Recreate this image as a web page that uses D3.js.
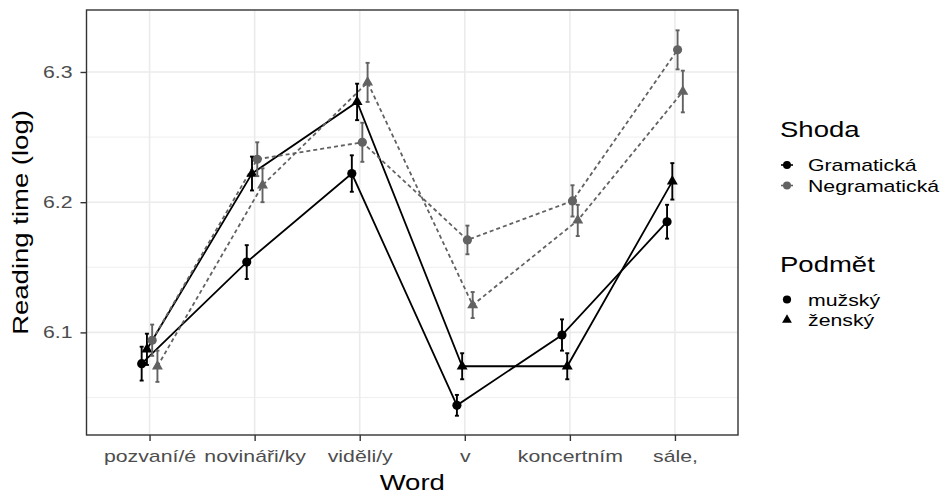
<!DOCTYPE html>
<html lang="cs">
<head>
  <meta charset="UTF-8">
  <title>Reading time by word</title>
  <script src="https://d3js.org/d3.v7.min.js"></script>
  <style type="text/css">
    body { margin: 0; background: white; }
    text { font-family: "Liberation Sans", Arial, sans-serif; }
    .axis path { display: none; }
    .axis line { stroke: #333333; stroke-width: 1.4; }
    .axis text { fill: #4d4d4d; font-size: 17px; }
  </style>
</head>
<body>
  <svg width="941" height="496"></svg>
  <script type="text/javascript">
    // Data
    const words = ["pozvaní/é", "novináři/ky", "viděli/y", "v", "koncertním", "sále,"];
    const yTicks = [6.1, 6.2, 6.3];
    const yMinor = [6.05, 6.15, 6.25];

    // Shoda = Gramatická / Negramatická, Podmět = mužský / ženský
    const gramMuz   = [6.076, 6.154, 6.222, 6.044, 6.098, 6.185];
    const gramMuzSe = [0.013, 0.013, 0.014, 0.008, 0.012, 0.013];
    const gramZen   = [6.087, 6.222, 6.277, 6.074, 6.074, 6.216];
    const gramZenSe = [0.012, 0.013, 0.014, 0.010, 0.010, 0.014];
    const negMuz    = [6.094, 6.233, 6.246, 6.171, 6.201, 6.317];
    const negMuzSe  = [0.012, 0.013, 0.015, 0.011, 0.012, 0.015];
    const negZen    = [6.074, 6.213, 6.292, 6.121, 6.186, 6.285];
    const negZenSe  = [0.012, 0.013, 0.015, 0.010, 0.012, 0.016];

    const groups = [
      { key: "gram-muz", shoda: "Gramatická", podmet: "mužský", vals: gramMuz, se: gramMuzSe },
      { key: "gram-zen", shoda: "Gramatická", podmet: "ženský", vals: gramZen, se: gramZenSe },
      { key: "neg-muz", shoda: "Negramatická", podmet: "mužský", vals: negMuz, se: negMuzSe },
      { key: "neg-zen", shoda: "Negramatická", podmet: "ženský", vals: negZen, se: negZenSe }
    ];

    const colour = d3.scaleOrdinal().domain(["Gramatická", "Negramatická"]).range(["#000000", "#626262"]);
    const dash = d3.scaleOrdinal().domain(["Gramatická", "Negramatická"]).range([null, "4,3"]);
    const shape = d3.scaleOrdinal().domain(["mužský", "ženský"]).range([d3.symbolCircle, d3.symbolTriangle]);
    const shapeSize = d3.scaleOrdinal().domain(["mužský", "ženský"]).range([66, 52]);

    // glyphs in the picture are wider than Liberation Sans, stretch them a bit
    const K = 1.25;
    function stretch(sel) {
      sel.each(function () {
        const l = this.getComputedTextLength();
        d3.select(this).attr("textLength", l * K).attr("lengthAdjust", "spacingAndGlyphs");
      });
    }

    const svg = d3.select("svg");
    const panel = { left: 86.5, right: 738, top: 10, bottom: 435 };

    const x = d3.scalePoint().domain(words).range([panel.left, panel.right]).padding(0.6);
    const y = d3.scaleLinear().domain([6.0212, 6.3476]).range([panel.bottom, panel.top]);
    const dodgeW = 0.2 * x.step();
    const dodge = d3.scalePoint().domain(groups.map(g => g.key)).range([-dodgeW * 3 / 8, dodgeW * 3 / 8]);

    // grid
    const grid = svg.append("g");
    grid.selectAll("line.minor").data(yMinor).enter().append("line")
      .attr("x1", panel.left).attr("x2", panel.right)
      .attr("y1", d => y(d)).attr("y2", d => y(d))
      .attr("stroke", "#ebebeb").attr("stroke-width", 0.8);
    grid.selectAll("line.majory").data(yTicks).enter().append("line")
      .attr("x1", panel.left).attr("x2", panel.right)
      .attr("y1", d => y(d)).attr("y2", d => y(d))
      .attr("stroke", "#ebebeb").attr("stroke-width", 1.6);
    grid.selectAll("line.majorx").data(words).enter().append("line")
      .attr("x1", d => x(d)).attr("x2", d => x(d))
      .attr("y1", panel.top).attr("y2", panel.bottom)
      .attr("stroke", "#ebebeb").attr("stroke-width", 1.6);

    // lines
    const line = d3.line()
      .x((d, i) => x(words[i]) + d.dx)
      .y(d => y(d.v));
    svg.append("g").selectAll("path").data(groups).enter().append("path")
      .attr("d", g => line(g.vals.map(v => ({ v: v, dx: dodge(g.key) }))))
      .attr("fill", "none")
      .attr("stroke", g => colour(g.shoda))
      .attr("stroke-width", 1.8)
      .attr("stroke-dasharray", g => dash(g.shoda));

    // error bars + points
    groups.forEach(function (g) {
      const gg = svg.append("g").attr("class", "grp " + g.key);
      const pts = g.vals.map((v, i) => ({ w: words[i], v: v, se: g.se[i] }));
      const c = colour(g.shoda);
      gg.selectAll("line.err").data(pts).enter().append("line")
        .attr("x1", d => x(d.w) + dodge(g.key)).attr("x2", d => x(d.w) + dodge(g.key))
        .attr("y1", d => y(d.v - d.se)).attr("y2", d => y(d.v + d.se))
        .attr("stroke", c).attr("stroke-width", 1.9);
      [-1, 1].forEach(function (s) {
        gg.selectAll("line.cap" + s).data(pts).enter().append("line")
          .attr("x1", d => x(d.w) + dodge(g.key) - 2).attr("x2", d => x(d.w) + dodge(g.key) + 2)
          .attr("y1", d => y(d.v + s * d.se)).attr("y2", d => y(d.v + s * d.se))
          .attr("stroke", c).attr("stroke-width", 1.9);
      });
      gg.selectAll("path.pt").data(pts).enter().append("path")
        .attr("transform", d => "translate(" + (x(d.w) + dodge(g.key)) + "," + y(d.v) + ")")
        .attr("d", d3.symbol().type(shape(g.podmet)).size(shapeSize(g.podmet)))
        .attr("fill", c);
    });

    // panel border
    svg.append("rect")
      .attr("x", panel.left).attr("y", panel.top)
      .attr("width", panel.right - panel.left).attr("height", panel.bottom - panel.top)
      .attr("fill", "none").attr("stroke", "#333333").attr("stroke-width", 1.4);

    // axes
    const xAxis = svg.append("g").attr("class", "axis")
      .attr("transform", "translate(0," + panel.bottom + ")")
      .call(d3.axisBottom(x).tickSize(6).tickPadding(9));
    xAxis.selectAll("text").attr("dy", "0.71em");
    stretch(xAxis.selectAll("text"));

    const yAxis = svg.append("g").attr("class", "axis")
      .attr("transform", "translate(" + panel.left + ",0)")
      .call(d3.axisLeft(y).tickValues(yTicks).tickFormat(d3.format(".1f")).tickSize(6).tickPadding(8));
    stretch(yAxis.selectAll("text"));

    const xTitle = svg.append("text")
      .attr("x", (panel.left + panel.right) / 2).attr("y", 490)
      .attr("text-anchor", "middle").style("font-size", "22px").text("Word");
    stretch(xTitle);
    const yTitle = svg.append("text")
      .attr("transform", "translate(28," + (panel.top + panel.bottom) / 2 + ") rotate(-90)")
      .attr("text-anchor", "middle").style("font-size", "22px").text("Reading time (log)");
    stretch(yTitle);

    // legends
    const leg = svg.append("g").attr("transform", "translate(780,0)");
    const t1 = leg.append("text").attr("x", 0).attr("y", 137).style("font-size", "22px").text("Shoda");
    stretch(t1);
    const shodaKeys = ["Gramatická", "Negramatická"];
    shodaKeys.forEach(function (s, i) {
      const ky = 165 + i * 20.5;
      leg.append("line").attr("x1", 1).attr("x2", 13).attr("y1", ky).attr("y2", ky)
        .attr("stroke", colour(s)).attr("stroke-width", 1.6);
      leg.append("path").attr("transform", "translate(7," + ky + ")")
        .attr("d", d3.symbol().type(d3.symbolCircle).size(50)).attr("fill", colour(s));
      stretch(leg.append("text").attr("x", 28).attr("y", ky).attr("dy", "0.36em")
        .style("font-size", "17px").text(s));
    });
    const t2 = leg.append("text").attr("x", 0).attr("y", 272).style("font-size", "22px").text("Podmět");
    stretch(t2);
    ["mužský", "ženský"].forEach(function (p, i) {
      const ky = 299.5 + i * 20.5;
      leg.append("path").attr("transform", "translate(7," + ky + ")")
        .attr("d", d3.symbol().type(shape(p)).size(shapeSize(p) * 0.8)).attr("fill", "black");
      stretch(leg.append("text").attr("x", 28).attr("y", ky).attr("dy", "0.36em")
        .style("font-size", "17px").text(p));
    });
  </script>
</body>
</html>
